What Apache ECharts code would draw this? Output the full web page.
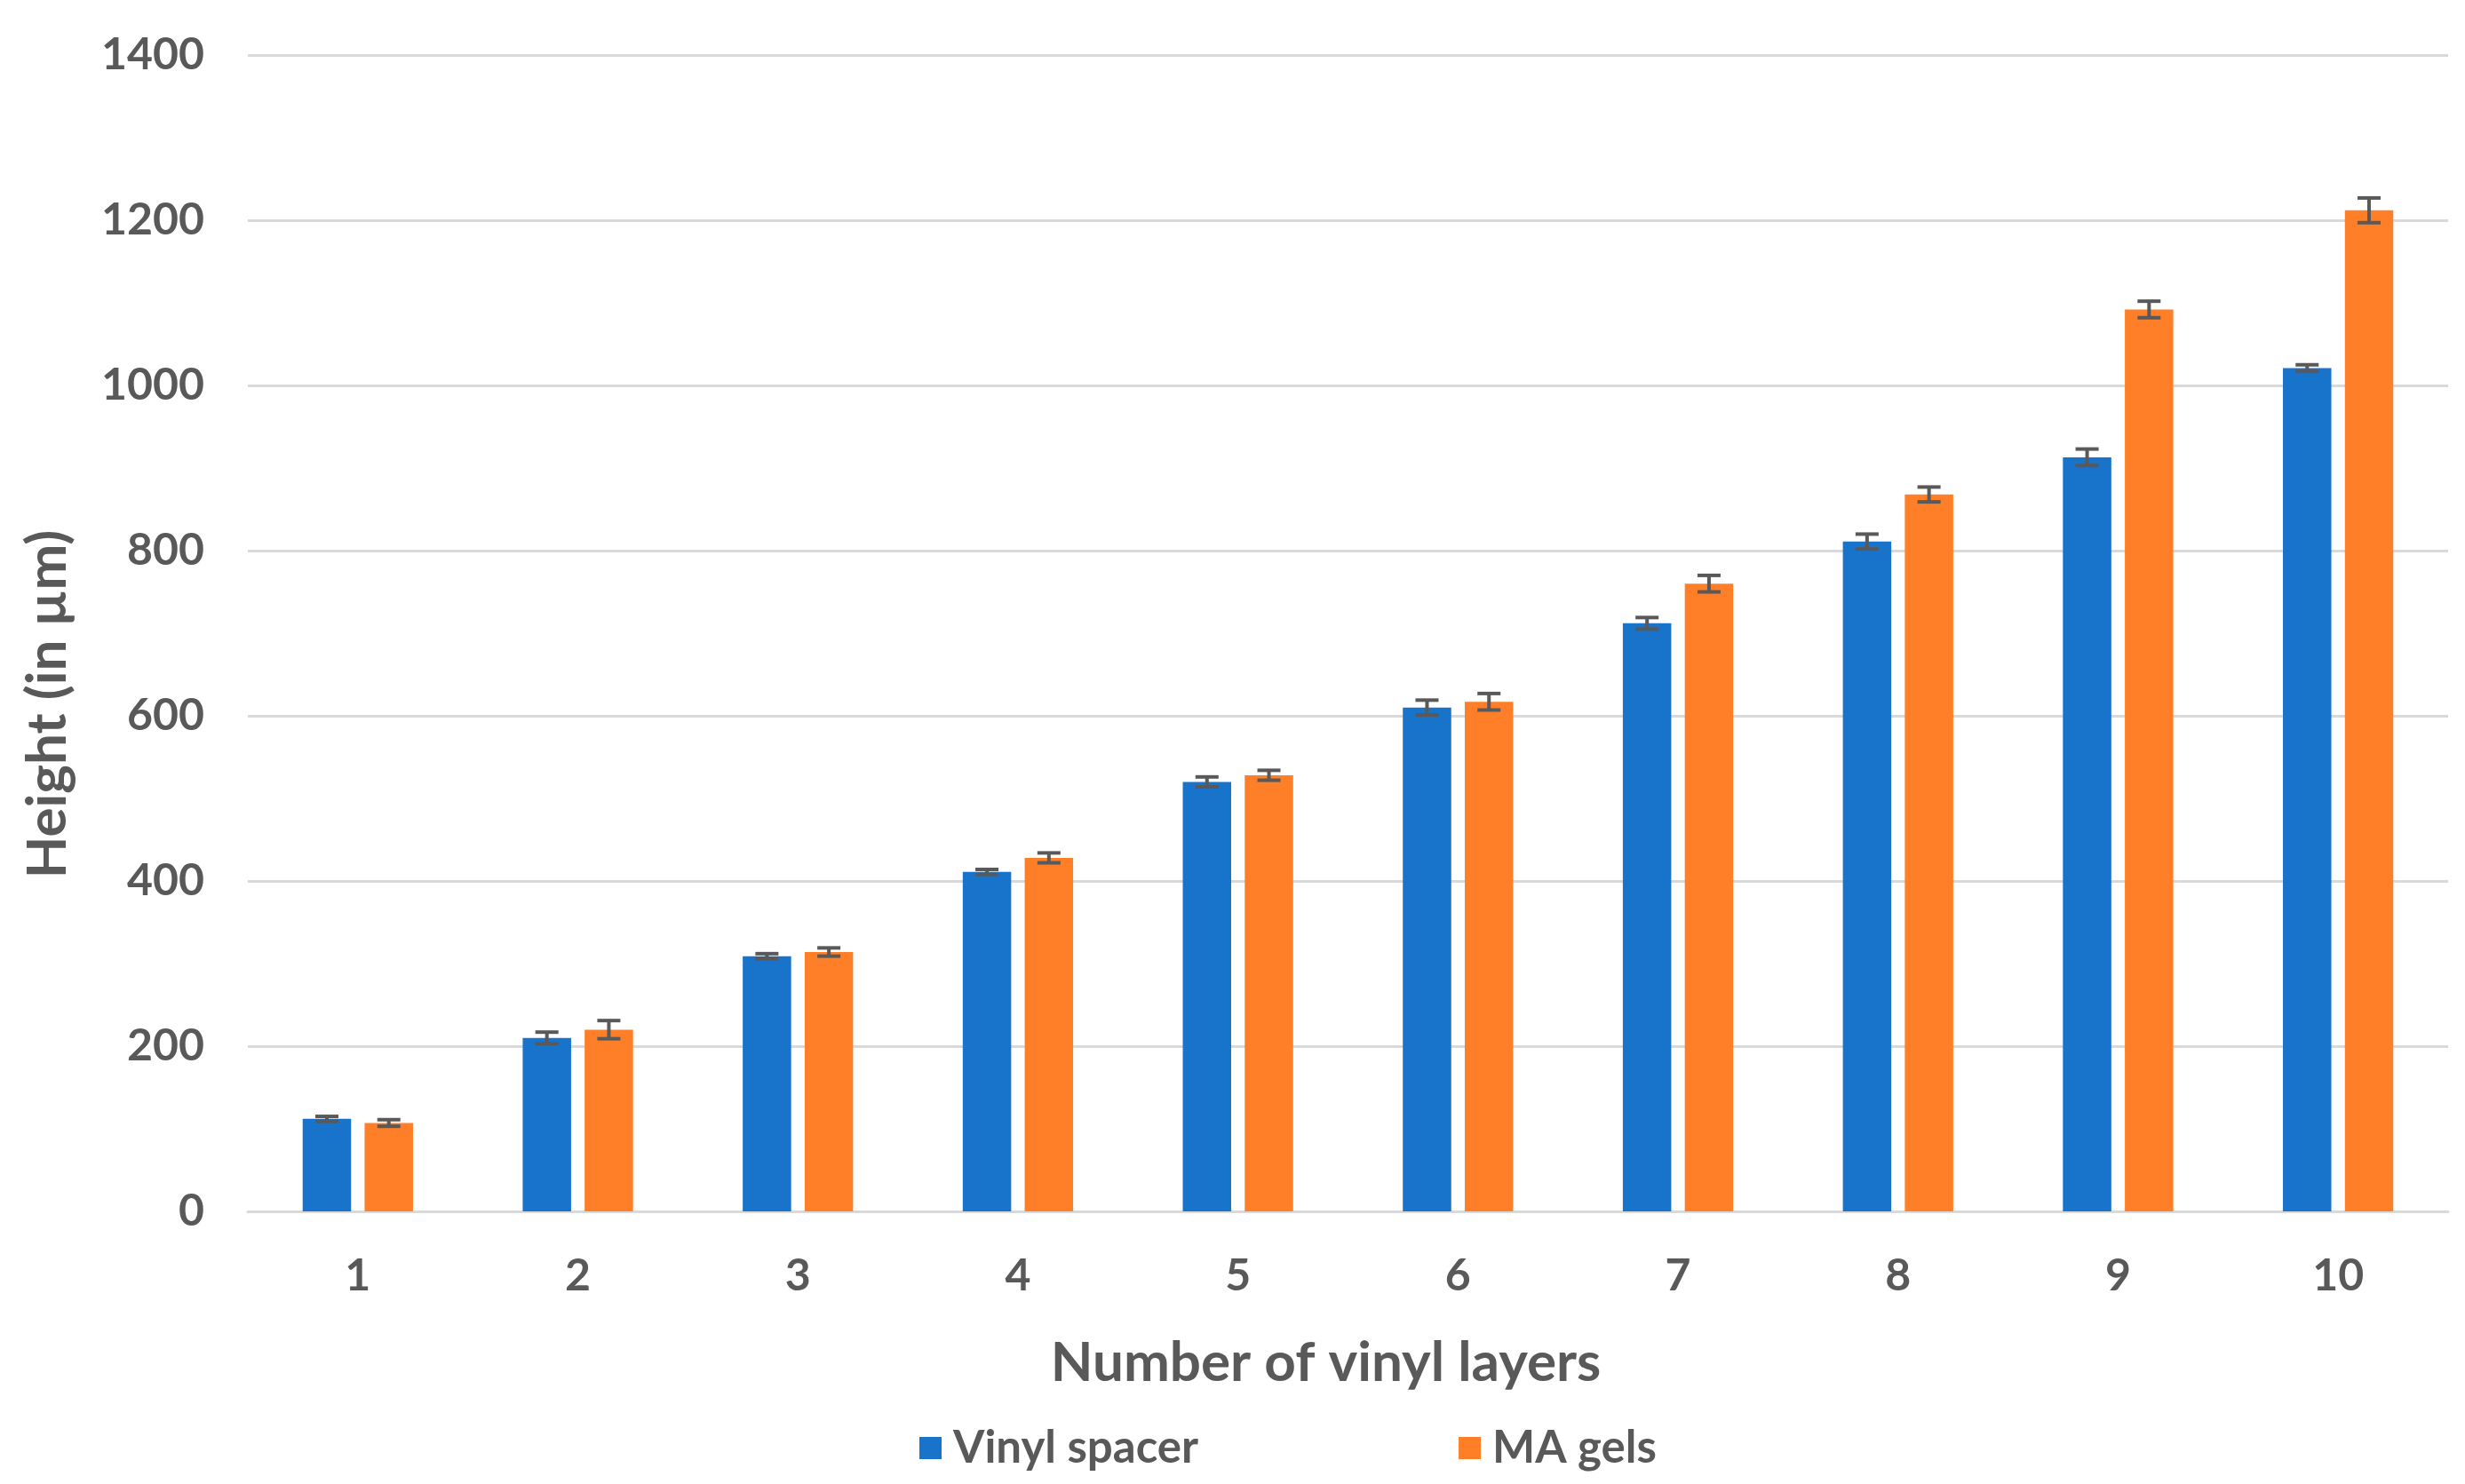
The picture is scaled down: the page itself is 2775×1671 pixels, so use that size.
<!DOCTYPE html>
<html>
<head>
<meta charset="utf-8">
<script src="https://cdn.jsdelivr.net/npm/echarts@6/dist/echarts.min.js"></script>
<style>html,body{margin:0;padding:0;background:#fff}#c{width:2775px;height:1671px}</style>
</head>
<body>
<div id="c"></div>
<script>
const categories = ['1','2','3','4','5','6','7','8','9','10'];
const vinylSpacer = [112, 210, 309, 411, 520, 610, 712, 811, 913, 1021];
const vinylErr =    [3, 7, 3, 3, 6, 9, 7, 9, 10, 4];
const maGels =      [107, 220, 314, 428, 528, 617, 760, 868, 1092, 1212];
const maErr =       [4, 11, 5, 6, 6, 10, 10, 9, 10, 15];
const yTicks = [0, 200, 400, 600, 800, 1000, 1200, 1400];

const FONT = 'Lato';
const TXT = '#595959';
const BAR_W = 0.22, BAR_GAP = 0.28;

function errData(vals, errs){
  return vals.map((v,i)=>[i, v-errs[i], v+errs[i]]);
}
function errSeries(name, vals, errs, sign){
  return {
    type:'custom', name: name, silent:true, z:10,
    data: errData(vals, errs),
    renderItem: function(params, api){
      const x = api.value(0);
      const catW = api.size([1,0])[0];
      const w = catW*BAR_W;
      const off = sign*(w + w*BAR_GAP)/2;
      const t = api.coord([x, api.value(2)]);
      const b = api.coord([x, api.value(1)]);
      const cx = t[0] + off, cap = 13;
      const st = {stroke:'#595959', lineWidth:4};
      return {type:'group', children:[
        {type:'line', shape:{x1:cx,y1:t[1],x2:cx,y2:b[1]}, style:st},
        {type:'line', shape:{x1:cx-cap,y1:t[1],x2:cx+cap,y2:t[1]}, style:st},
        {type:'line', shape:{x1:cx-cap,y1:b[1],x2:cx+cap,y2:b[1]}, style:st}
      ]};
    }
  };
}

const chart = echarts.init(document.getElementById('c'));
chart.setOption({
  animation:false,
  backgroundColor:'#ffffff',
  textStyle:{fontFamily:FONT},
  grid:{left:279, right:19, top:62, bottom:307, containLabel:false},
  legend:{
    data:['Vinyl spacer','MA gels'],
    top:1600, left:1030,
    itemWidth:25, itemHeight:25, itemGap:293,
    icon:'rect',
    textStyle:{fontFamily:FONT, fontWeight:'bold', fontSize:51, color:TXT, padding:[0,0,0,8]}
  },
  xAxis:{
    type:'category', data:categories,
    name:'Number of vinyl layers', nameLocation:'middle', nameGap:140,
    nameTextStyle:{fontFamily:FONT, fontWeight:'bold', fontSize:62, color:TXT, padding:[0,50,0,0]},
    axisLine:{lineStyle:{color:'#D9D9D9', width:3}},
    axisTick:{show:false},
    axisLabel:{fontFamily:FONT, fontWeight:'bold', fontSize:50, color:TXT, margin:48}
  },
  yAxis:{
    type:'value', min:0, max:1400, interval:200,
    name:'Height (in µm)', nameLocation:'middle', nameGap:194,
    nameTextStyle:{fontFamily:FONT, fontWeight:'bold', fontSize:62, color:TXT, padding:[0,160,0,0]},
    axisLine:{show:false}, axisTick:{show:false},
    splitLine:{lineStyle:{color:'#D9D9D9', width:3}},
    axisLabel:{fontFamily:FONT, fontWeight:'bold', fontSize:50, color:TXT, margin:49,
      formatter: v => yTicks.includes(v) ? String(v) : ''}
  },
  series:[
    {type:'bar', name:'Vinyl spacer', data:vinylSpacer, barWidth:(BAR_W*100)+'%', barGap:(BAR_GAP*100)+'%',
     itemStyle:{color:'#1873CA'}},
    {type:'bar', name:'MA gels', data:maGels, barWidth:(BAR_W*100)+'%', barGap:(BAR_GAP*100)+'%',
     itemStyle:{color:'#FE7F27'}},
    errSeries('vErr', vinylSpacer, vinylErr, -1),
    errSeries('mErr', maGels, maErr, 1)
  ]
});
</script>
</body>
</html>
